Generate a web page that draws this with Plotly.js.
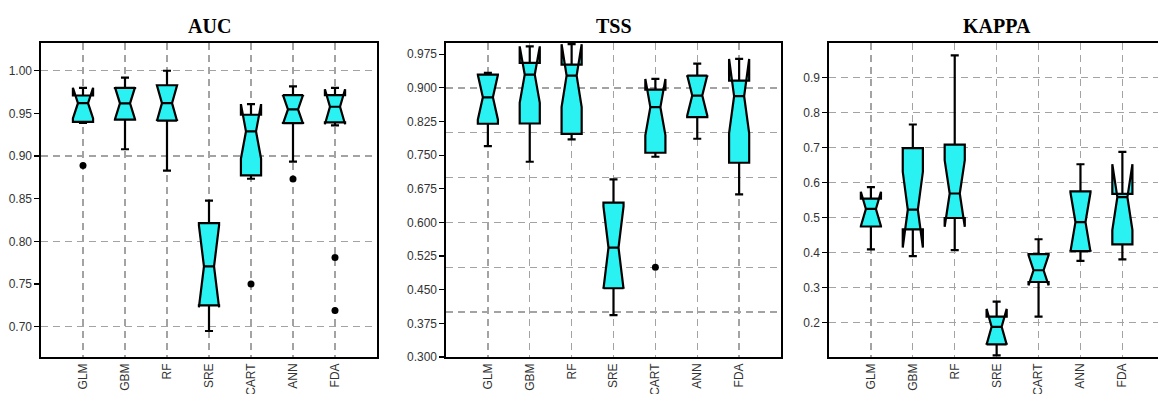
<!DOCTYPE html>
<html>
<head>
<meta charset="utf-8">
<script src="https://cdn.plot.ly/plotly-3.0.1.min.js"></script>
<style>
  html, body { margin: 0; padding: 0; background: #ffffff; }
  #chart { width: 1158px; height: 394px; }
</style>
</head>
<body>
<div id="chart"></div>
<script>
// ---- Data ----
const categories = ['GLM', 'GBM', 'RF', 'SRE', 'CART', 'ANN', 'FDA'];
const panelTitles = ['AUC', 'TSS', 'KAPPA'];

// AUC
const aucQ1     = [0.940, 0.9426, 0.9415, 0.725, 0.8773, 0.9387, 0.9394];
const aucMedian = [0.962, 0.9618, 0.962, 0.7707, 0.9289, 0.9547, 0.9578];
const aucQ3     = [0.971, 0.980, 0.983, 0.8215, 0.9484, 0.9715, 0.9715];
const aucLower  = [0.939, 0.908, 0.883, 0.695, 0.8734, 0.8934, 0.936];
const aucUpper  = [0.974, 0.992, 1.000, 0.8477, 0.955, 0.9816, 0.980];
const aucNotch  = [0.018, 0.019, 0.021, 0.048, 0.032, 0.017, 0.0205];
const aucOutlierCat = ['GLM', 'CART', 'ANN', 'FDA', 'FDA'];
const aucOutlierVal = [0.889, 0.750, 0.873, 0.781, 0.719];

// TSS
const tssQ1     = [0.820, 0.8205, 0.7976, 0.4533, 0.7553, 0.8346, 0.733];
const tssMedian = [0.879, 0.9296, 0.9274, 0.5439, 0.857, 0.8829, 0.8814];
const tssQ3     = [0.9296, 0.9556, 0.952, 0.644, 0.896, 0.9274, 0.9162];
const tssLower  = [0.770, 0.7353, 0.785, 0.3932, 0.7464, 0.7865, 0.6625];
const tssUpper  = [0.9334, 0.974, 0.994, 0.696, 0.9096, 0.954, 0.954];
const tssNotch  = [0.050, 0.063, 0.070, 0.092, 0.063, 0.045, 0.083];
const tssOutlierCat = ['CART'];
const tssOutlierVal = [0.500];

// KAPPA
const kapQ1     = [0.4744, 0.466, 0.4986, 0.1383, 0.316, 0.4043, 0.4236];
const kapMedian = [0.5245, 0.5225, 0.5686, 0.1882, 0.3496, 0.487, 0.558];
const kapQ3     = [0.5542, 0.6983, 0.7078, 0.217, 0.3957, 0.5744, 0.5677];
const kapLower  = [0.409, 0.390, 0.4072, 0.1066, 0.217, 0.3764, 0.3805];
const kapUpper  = [0.5868, 0.7654, 0.9625, 0.2602, 0.438, 0.652, 0.6876];
const kapNotch  = [0.049, 0.108, 0.095, 0.051, 0.043, 0.085, 0.094];

// ---- Styling ----
const FILL = '#2AF2F2';
const GRID = '#a3a3a3';
const DASH = '7px,5px';
const TICKFONT = { family: 'Liberation Sans, Arial, sans-serif', size: 12, color: '#333333' };

function boxTrace(q1, med, q3, lo, hi, notch, xa, ya) {
  return {
    type: 'box',
    x: categories,
    q1: q1, median: med, q3: q3,
    lowerfence: lo, upperfence: hi,
    notchspan: notch,
    notched: true,
    notchwidth: 0.25,
    width: 0.48,
    whiskerwidth: 0.4,
    boxpoints: false,
    fillcolor: FILL,
    line: { color: '#000000', width: 2.2 },
    xaxis: xa, yaxis: ya,
    showlegend: false,
    hoverinfo: 'skip'
  };
}
function outlierTrace(cats, vals, xa, ya) {
  return {
    type: 'scatter', mode: 'markers',
    x: cats, y: vals,
    marker: { color: '#000000', size: 7 },
    xaxis: xa, yaxis: ya,
    showlegend: false, hoverinfo: 'skip'
  };
}
function emptyTrace(xa, ya) {
  return { type: 'scatter', mode: 'markers', x: [], y: [], xaxis: xa, yaxis: ya, showlegend: false, hoverinfo: 'skip' };
}

const data = [
  boxTrace(aucQ1, aucMedian, aucQ3, aucLower, aucUpper, aucNotch, 'x', 'y'),
  outlierTrace(aucOutlierCat, aucOutlierVal, 'x', 'y'),
  boxTrace(tssQ1, tssMedian, tssQ3, tssLower, tssUpper, tssNotch, 'x2', 'y2'),
  outlierTrace(tssOutlierCat, tssOutlierVal, 'x2', 'y2'),
  boxTrace(kapQ1, kapMedian, kapQ3, kapLower, kapUpper, kapNotch, 'x3', 'y3'),
  emptyTrace('x', 'y4'),
  emptyTrace('x2', 'y5')
];

const W = 1158, H = 394;
const yDom = [(H - 357) / H, (H - 43) / H];

function xAxis(domain, anchor, range) {
  return {
    domain: domain, anchor: anchor, range: range,
    type: 'category', categoryorder: 'array', categoryarray: categories,
    tickangle: -90, tickfont: TICKFONT, ticks: '',
    showgrid: true, gridcolor: GRID, gridwidth: 1.3, griddash: DASH,
    showline: true, linecolor: '#000000', linewidth: 1.6, mirror: true,
    zeroline: false, fixedrange: true
  };
}
function yAxis(anchor, range, dtick, tick0, fmt, grid, mirror) {
  return {
    domain: yDom, anchor: anchor, range: range,
    dtick: dtick, tick0: tick0, tickformat: fmt,
    tickfont: TICKFONT, ticks: 'outside', ticklen: 5, tickwidth: 1.2, tickcolor: '#000000',
    showgrid: grid, gridcolor: GRID, gridwidth: 1.3, griddash: DASH,
    showline: true, linecolor: '#000000', linewidth: 1.6, mirror: mirror,
    zeroline: false, fixedrange: true
  };
}
function gridAxis(over, anchor, range) {
  return {
    domain: yDom, anchor: anchor, overlaying: over, range: range,
    dtick: 0.1, tick0: 0,
    showticklabels: false, ticks: '', showline: false, zeroline: false,
    showgrid: true, gridcolor: GRID, gridwidth: 1.3, griddash: DASH,
    fixedrange: true
  };
}

const aucRange = [0.6645, 1.0325];
const tssRange = [0.3, 1.0];
const kapRange = [0.102, 0.998];

const titleFont = { family: 'Liberation Serif, Times New Roman, serif', size: 20, color: '#000000' };

const layout = {
  width: W, height: H,
  margin: { l: 0, r: 0, t: 0, b: 0 },
  paper_bgcolor: '#ffffff', plot_bgcolor: '#ffffff',
  showlegend: false,
  xaxis:  xAxis([41 / W, 377 / W], 'y', [-1, 7]),
  xaxis2: xAxis([446 / W, 781 / W], 'y2', [-1, 7]),
  xaxis3: xAxis([829 / W, 1], 'y3', [-1, 6.85]),
  yaxis:  yAxis('x', aucRange, 0.05, 0, '.2f', false, true),
  yaxis2: yAxis('x2', tssRange, 0.075, 0.3, '.3f', false, true),
  yaxis3: yAxis('x3', kapRange, 0.1, 0, '.1f', true, false),
  yaxis4: gridAxis('y', 'x', aucRange),
  yaxis5: gridAxis('y2', 'x2', tssRange),
  annotations: [
    { text: '<b>' + panelTitles[0] + '</b>', x: 209 / W, y: 1 - 26 / H, xref: 'paper', yref: 'paper', xanchor: 'center', yanchor: 'middle', showarrow: false, font: titleFont },
    { text: '<b>' + panelTitles[1] + '</b>', x: 613.5 / W, y: 1 - 26 / H, xref: 'paper', yref: 'paper', xanchor: 'center', yanchor: 'middle', showarrow: false, font: titleFont },
    { text: '<b>' + panelTitles[2] + '</b>', x: 996.5 / W, y: 1 - 26 / H, xref: 'paper', yref: 'paper', xanchor: 'center', yanchor: 'middle', showarrow: false, font: titleFont }
  ]
};

Plotly.newPlot('chart', data, layout, { staticPlot: true, displayModeBar: false });
</script>
</body>
</html>
